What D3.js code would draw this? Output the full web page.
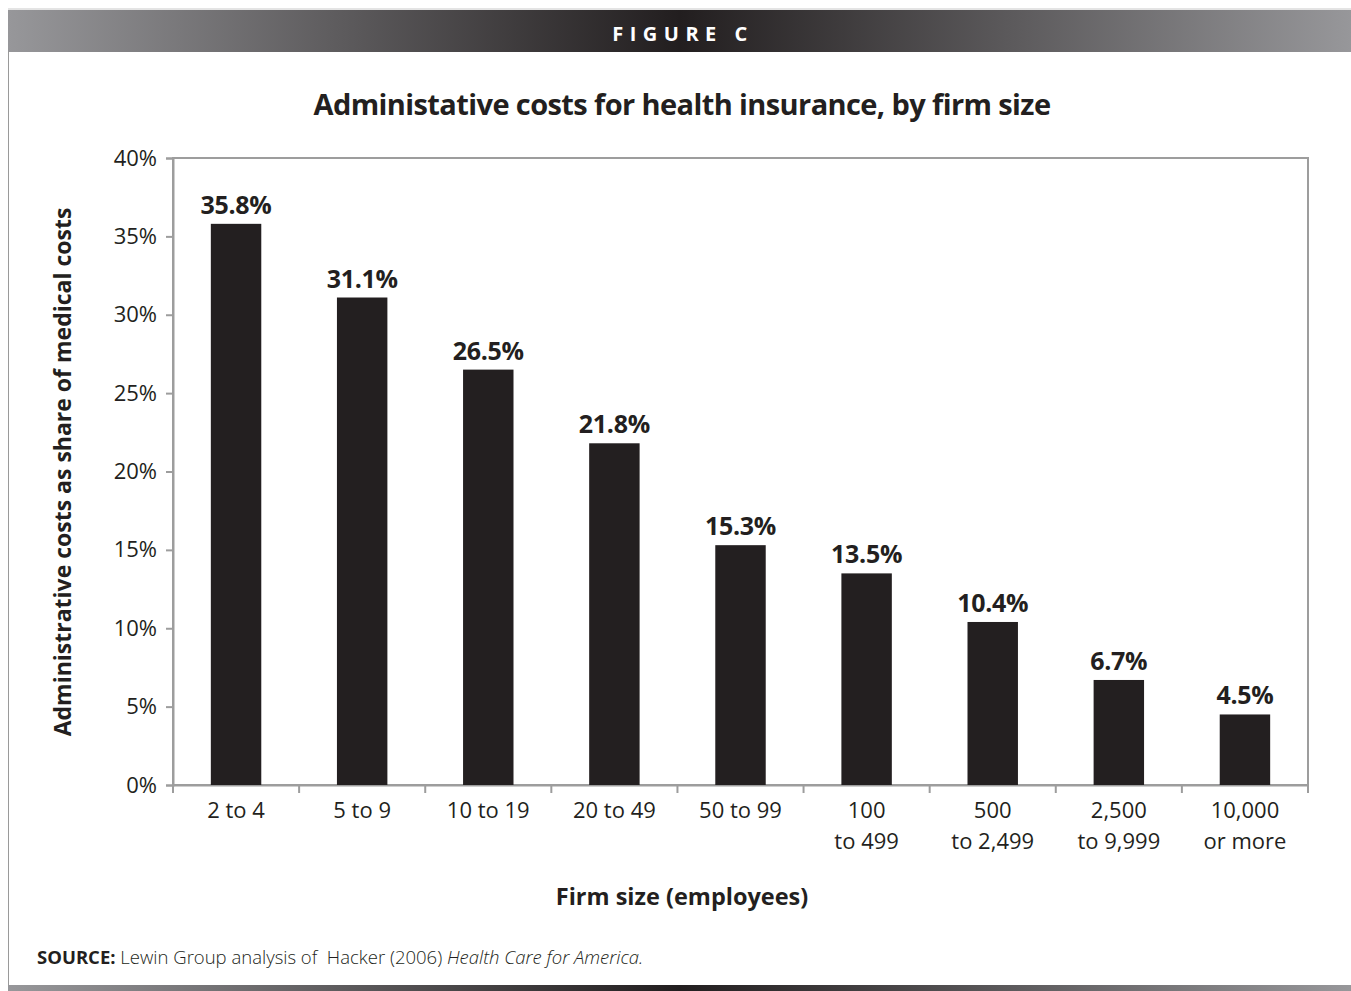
<!DOCTYPE html>
<html>
<head>
<meta charset="utf-8">
<script src="https://cdn.jsdelivr.net/npm/d3@7"></script>
<style>
  body { margin: 0; background: #fff; }
  svg { display: block; }
</style>
</head>
<body>
<svg id="svg"></svg>
<script>
// chart data
const firmSizes = ['2 to 4', '5 to 9', '10 to 19', '20 to 49', '50 to 99', '100\nto 499', '500\nto 2,499', '2,500\nto 9,999', '10,000\nor more']
const adminCosts = [35.8, 31.1, 26.5, 21.8, 15.3, 13.5, 10.4, 6.7, 4.5]
const yTicks = [0, 5, 10, 15, 20, 25, 30, 35, 40]

const W = 1351, H = 991
const font = '"Open Sans", "Noto Sans", sans-serif'
const ink = '#231f20'
const axisGray = '#9d9d9d'

const svg = d3.select('#svg').attr('width', W).attr('height', H)

// gradient for header and footer bands
const defs = svg.append('defs')
const grad = defs.append('linearGradient').attr('id', 'band').attr('x1', 0).attr('x2', 1)
grad.append('stop').attr('offset', 0).attr('stop-color', '#97979a')
grad.append('stop').attr('offset', 0.5).attr('stop-color', '#221e1f')
grad.append('stop').attr('offset', 1).attr('stop-color', '#97979a')

// frame
svg.append('line').attr('x1', 8).attr('x2', W).attr('y1', 9).attr('y2', 9)
    .attr('stroke', '#c8c8c8').attr('stroke-width', 1)
svg.append('rect').attr('x', 8).attr('y', 10).attr('width', W - 8).attr('height', 42)
    .attr('fill', 'url(#band)')
svg.append('line').attr('x1', 8.5).attr('x2', 8.5).attr('y1', 52).attr('y2', 985)
    .attr('stroke', '#9a9a9a').attr('stroke-width', 1)
svg.append('rect').attr('x', 8).attr('y', 985).attr('width', W - 8).attr('height', 6)
    .attr('fill', 'url(#band)')

svg.append('text')
    .text('FIGURE C')
    .attr('font-family', font)
    .attr('font-size', 20)
    .attr('font-weight', 'bold')
    .attr('letter-spacing', 6.5)
    .attr('fill', '#fff')
    .attr('text-anchor', 'middle')
    .attr('x', 683)
    .attr('y', 41)

// title
svg.append('text')
    .text('Administative costs for health insurance, by firm size')
    .attr('font-family', font)
    .attr('font-size', 29)
    .attr('font-weight', 'bold')
    .attr('letter-spacing', -0.6)
    .attr('fill', ink)
    .attr('text-anchor', 'middle')
    .attr('x', 682)
    .attr('y', 115)

// scales
const plot = { left: 173, right: 1308, top: 158, bottom: 785 }
const x = d3.scaleBand().domain(firmSizes).range([plot.left, plot.right])
    .paddingInner(0.6).paddingOuter(0.3)
const xTick = d3.scaleBand().domain(firmSizes).range([plot.left, plot.right]).padding(0)
const y = d3.scaleLinear().domain([0, 40]).range([plot.bottom, plot.top])

// plot frame
svg.append('rect')
    .attr('x', plot.left).attr('y', plot.top)
    .attr('width', plot.right - plot.left).attr('height', plot.bottom - plot.top)
    .attr('fill', 'none').attr('stroke', axisGray).attr('stroke-width', 2)

// y axis
const yAxis = svg.append('g')
    .attr('transform', `translate(${plot.left},0)`)
    .call(d3.axisLeft(y).tickValues(yTicks).tickSize(7).tickPadding(9).tickFormat(d => d + '%'))
yAxis.select('.domain').attr('stroke', axisGray).attr('stroke-width', 2)
yAxis.selectAll('.tick line').attr('stroke', axisGray).attr('stroke-width', 2)
yAxis.selectAll('.tick text')
    .attr('font-family', font).attr('font-size', 22).attr('fill', ink)

// x axis ticks at category boundaries
const xAxis = svg.append('g')
    .attr('transform', `translate(0,${plot.bottom})`)
    .call(d3.axisBottom(xTick).tickSize(0).tickPadding(14))
xAxis.select('.domain').attr('stroke', axisGray).attr('stroke-width', 2)
xAxis.selectAll('.tick text').remove()
const bounds = firmSizes.map(d => xTick(d)).concat([plot.right])
xAxis.selectAll('.bound').data(bounds).join('line')
    .attr('class', 'bound')
    .attr('x1', d => d).attr('x2', d => d)
    .attr('y1', 0).attr('y2', 8)
    .attr('stroke', axisGray).attr('stroke-width', 2)

// x category labels
const xLabels = svg.append('g')
firmSizes.forEach(cat => {
    cat.split('\n').forEach((line, i) => {
        xLabels.append('text')
            .text(line)
            .attr('font-family', font)
            .attr('font-size', 22)
            .attr('fill', ink)
            .attr('text-anchor', 'middle')
            .attr('x', xTick(cat) + xTick.bandwidth() / 2)
            .attr('y', 818 + i * 31)
    })
})

// bars
svg.append('g').selectAll('rect').data(adminCosts).join('rect')
    .attr('x', (d, i) => x(firmSizes[i]))
    .attr('y', d => y(d))
    .attr('width', x.bandwidth())
    .attr('height', d => y(0) - y(d))
    .attr('fill', ink)

// value labels
svg.append('g').selectAll('text').data(adminCosts).join('text')
    .text(d => d.toFixed(1) + '%')
    .attr('font-family', font)
    .attr('font-size', 25)
    .attr('font-weight', 'bold')
    .attr('letter-spacing', -0.3)
    .attr('fill', ink)
    .attr('text-anchor', 'middle')
    .attr('x', (d, i) => x(firmSizes[i]) + x.bandwidth() / 2)
    .attr('y', d => y(d) - 10)

// axis titles
svg.append('text')
    .text('Firm size (employees)')
    .attr('font-family', font)
    .attr('font-size', 23.5)
    .attr('font-weight', 'bold')
    .attr('fill', ink)
    .attr('text-anchor', 'middle')
    .attr('x', 682)
    .attr('y', 905)

svg.append('text')
    .text('Administrative costs as share of medical costs')
    .attr('font-family', font)
    .attr('font-size', 23)
    .attr('font-weight', 'bold')
    .attr('fill', ink)
    .attr('text-anchor', 'middle')
    .attr('transform', 'translate(71,472) rotate(-90)')

// source
const src = svg.append('text')
    .attr('font-family', font)
    .attr('font-size', 18.5)
    .attr('fill', ink)
    .attr('x', 37)
    .attr('y', 964)
    .style('white-space', 'pre')
src.append('tspan').text('SOURCE: ').attr('font-weight', 'bold')
src.append('tspan').text('Lewin Group analysis of  Hacker (2006) ').attr('font-weight', 300)
src.append('tspan').text('Health Care for America.').attr('font-style', 'italic').attr('font-weight', 300)
</script>
</body>
</html>
